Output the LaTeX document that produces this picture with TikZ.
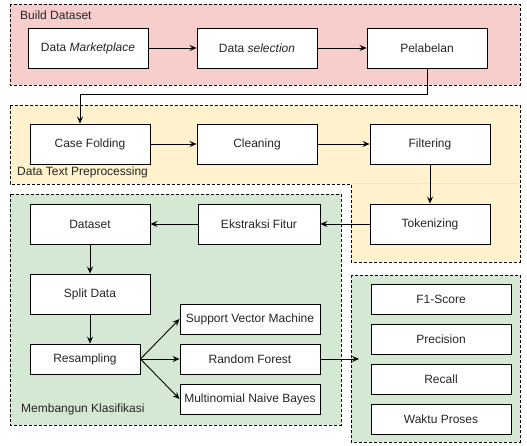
\documentclass[tikz,border=0pt]{standalone}
\usepackage{fontspec}
\setmainfont{Liberation Sans}
\usetikzlibrary{arrows.meta}
\definecolor{pinkfill}{HTML}{F8CECC}
\definecolor{yellowfill}{HTML}{FFF2CC}
\definecolor{greenfill}{HTML}{D5E8D4}
\definecolor{faintline}{HTML}{F7E3B5}
\tikzset{
  panel/.style={draw=black, line width=0.8pt, dash pattern=on 3pt off 2pt},
  box/.style={draw=black, fill=white, line width=0.9pt, inner sep=0pt, minimum width=120pt, minimum height=40pt, font=\fontsize{12pt}{14pt}\selectfont, text=black!85},
  smallbox/.style={box, minimum width=140pt, minimum height=30pt},
  arr/.style={draw=black, line width=0.9pt, -{Stealth[length=7pt,width=6pt,inset=2.5pt]}},
  grouplabel/.style={anchor=west, inner sep=0pt, font=\fontsize{12pt}{14pt}\selectfont, text=black!85}
}
\begin{document}
\begin{tikzpicture}[x=1pt,y=-1pt]
\useasboundingbox (0,0) rectangle (527,446);
% panels
\path[panel, fill=pinkfill] (10,4) rectangle (520,85);
\path[panel, fill=yellowfill] (10,105) -- (520,105) -- (520,262) -- (351,262) -- (351,184) -- (10,184) -- cycle;
\draw[faintline, line width=0.6pt] (352,183) -- (519,183);
\path[panel, fill=greenfill] (10,194) rectangle (341,425);
\path[panel, fill=greenfill] (351,275) rectangle (520,442);
% group labels
\node[grouplabel] (lbuild) at (20,15) {Build Dataset};
\node[grouplabel] (lprep) at (17,172) {Data Text Preprocessing};
\node[grouplabel] (lklas) at (21,409) {Membangun Klasifikasi};
% row 1
\node[box] (dm) at (88,48) {Data \textit{Marketplace}};
\node[box] (ds) at (257,48) {Data \textit{selection}};
\node[box] (pel) at (427,48) {Pelabelan};
% row 2
\node[box] (cf) at (90,144) {Case Folding};
\node[box] (cl) at (257,144) {Cleaning};
\node[box] (fi) at (430,144) {Filtering};
% row 3
\node[box] (dset) at (90,224) {Dataset};
\node[box, minimum width=122pt] (ek) at (259,224) {Ekstraksi Fitur};
\node[box] (tok) at (430,224) {Tokenizing};
% classification
\node[box] (split) at (90,294) {Split Data};
\node[box, minimum width=110pt, minimum height=30pt] (res) at (85,359) {Resampling};
\node[smallbox] (svm) at (250,319) {Support Vector Machine};
\node[smallbox] (rf) at (250,359) {Random Forest};
\node[smallbox] (mnb) at (250,399) {Multinomial Naive Bayes};
% evaluation
\node[smallbox] (f1) at (441,299) {F1-Score};
\node[smallbox] (prec) at (441,339) {Precision};
\node[smallbox] (rec) at (441,379) {Recall};
\node[smallbox] (wak) at (441,419) {Waktu Proses};
% connectors
\coordinate (j) at (80,94);
\coordinate (evalin) at (359,359);
\draw[arr] (dm) -- (ds);
\draw[arr] (ds) -- (pel);
\draw[arr] (pel.south) |- (j) -- (j |- cf.north);
\draw[arr] (cf) -- (cl);
\draw[arr] (cl) -- (fi);
\draw[arr] (fi) -- (tok);
\draw[arr] (tok) -- (ek);
\draw[arr] (ek) -- (dset);
\draw[arr] (dset) -- (split);
\draw[arr] (split.south) -- (split.south |- res.north);
\draw[arr] (res.east) -- (svm.west);
\draw[arr] (res.east) -- (rf.west);
\draw[arr] (res.east) -- (mnb.west);
\draw[arr] (rf.east) -- (evalin);
\end{tikzpicture}
\end{document}
